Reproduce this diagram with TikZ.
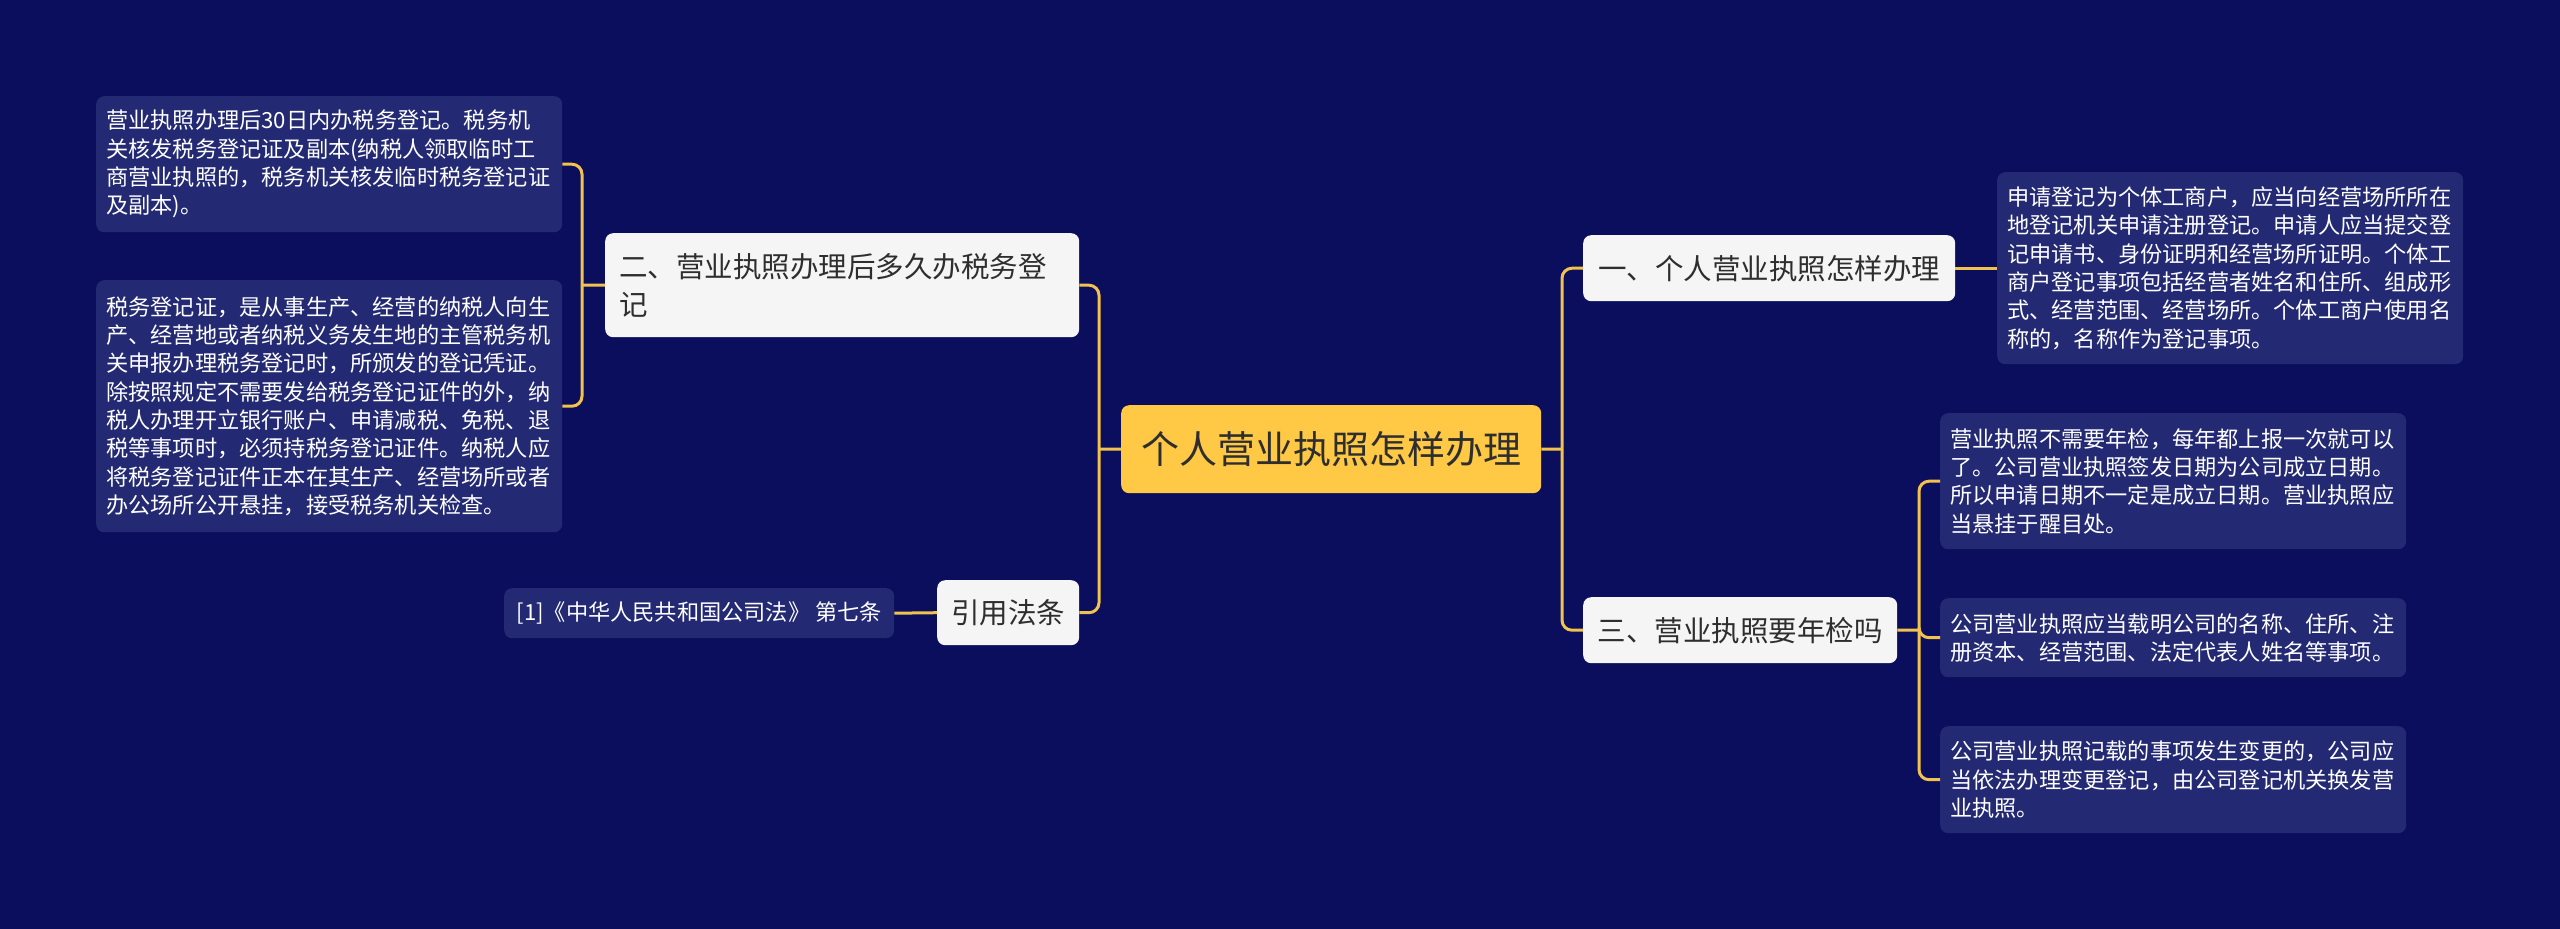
\documentclass[tikz,border=0pt]{standalone}
\usepackage{fontspec}
\setmainfont{Noto Sans CJK SC}
\definecolor{bgc}{HTML}{0A0E5C}
\definecolor{leafc}{HTML}{232A73}
\definecolor{branchc}{HTML}{F5F5F5}
\definecolor{rootc}{HTML}{FFC845}
\definecolor{linec}{HTML}{F2C24E}
\definecolor{darktext}{HTML}{2E2E2E}
\newcommand{\leaffont}{\fontsize{22.2}{28.3}\selectfont}
\newcommand{\branchfont}{\fontsize{28.5}{38}\selectfont}
\newcommand{\rootfont}{\fontsize{38}{44}\selectfont}
\begin{document}
\begin{tikzpicture}[x=1pt,y=-1pt,
  leaf/.style={fill=leafc, rounded corners=8pt, text=white, font=\leaffont, align=left,
    anchor=north west, inner xsep=10pt, inner ysep=0pt, text width=446pt},
  branch/.style={fill=branchc, rounded corners=8pt, text=darktext, font=\branchfont,
    anchor=north west, inner sep=0pt, align=center},
  rootbox/.style={fill=rootc, rounded corners=8pt, text=darktext, font=\rootfont,
    anchor=north west, inner sep=0pt, align=center},
  conn/.style={draw=linec, line width=3pt, rounded corners=10pt}]
\fill[bgc] (0,0) rectangle (2560,929);
\useasboundingbox (0,0) rectangle (2560,929);

% root
\node[rootbox, minimum width=420pt, minimum height=88pt] (root) at (1121,405) {个人营业执照怎样办理};

% right branches
\node[branch, minimum width=372pt, minimum height=66pt] (b1) at (1583,235) {一、个人营业执照怎样办理};
\node[branch, minimum width=314pt, minimum height=66pt] (b3) at (1583,597) {三、营业执照要年检吗};

% left branches
\node[branch, minimum width=474pt, minimum height=104pt, align=left, text width=446pt, inner xsep=14pt] (b2) at (605,233) {二、营业执照办理后多久办税务登\\记};
\node[branch, minimum width=142pt, minimum height=65pt] (b4) at (937,580) {引用法条};

% leaves
\node[leaf, minimum height=192pt] (l1) at (1997,172) {申请登记为个体工商户，应当向经营场所所在\\地登记机关申请注册登记。申请人应当提交登\\记申请书、身份证明和经营场所证明。个体工\\商户登记事项包括经营者姓名和住所、组成形\\式、经营范围、经营场所。个体工商户使用名\\称的，名称作为登记事项。};

\node[leaf, minimum height=136pt] (l3a) at (1940,413) {营业执照不需要年检，每年都上报一次就可以\\了。公司营业执照签发日期为公司成立日期。\\所以申请日期不一定是成立日期。营业执照应\\当悬挂于醒目处。};
\node[leaf, minimum height=79pt] (l3b) at (1940,598) {公司营业执照应当载明公司的名称、住所、注\\册资本、经营范围、法定代表人姓名等事项。};
\node[leaf, minimum height=107pt] (l3c) at (1940,726) {公司营业执照记载的事项发生变更的，公司应\\当依法办理变更登记，由公司登记机关换发营\\业执照。};

\node[leaf, minimum height=136pt] (l2a) at (96,96) {营业执照办理后30日内办税务登记。税务机\\关核发税务登记证及副本(纳税人领取临时工\\商营业执照的，税务机关核发临时税务登记证\\及副本)。};
\node[leaf, minimum height=252pt] (l2b) at (96,280) {税务登记证，是从事生产、经营的纳税人向生\\产、经营地或者纳税义务发生地的主管税务机\\关申报办理税务登记时，所颁发的登记凭证。\\除按照规定不需要发给税务登记证件的外，纳\\税人办理开立银行账户、申请减税、免税、退\\税等事项时，必须持税务登记证件。纳税人应\\将税务登记证件正本在其生产、经营场所或者\\办公场所公开悬挂，接受税务机关检查。};

\node[leaf, text width=, align=center, minimum width=390pt, minimum height=50pt] (l4) at (504,588) {[1]《中华人民共和国公司法》 第七条};

% junctions
\coordinate (jr) at (1562,449);
\coordinate (jl) at (1099,449);
\coordinate (j3) at (1919,630);
\coordinate (j2) at (582,285);

% connectors
\draw[conn] (root.east) -- (jr);
\draw[conn] (jr) |- (b1.west);
\draw[conn] (jr) |- (b3.west);
\draw[conn] (root.west) -- (jl);
\draw[conn] (jl) |- (b2.east);
\draw[conn] (jl) |- (b4.east);
\draw[conn] (b1.east) -- (l1.west);
\draw[conn] (b3.east) -- (j3);
\draw[conn] (j3) |- (l3a.west);
\draw[conn] (j3) |- (l3b.west);
\draw[conn] (j3) |- (l3c.west);
\draw[conn] (b2.west) -- (j2);
\draw[conn] (j2) |- (l2a.east);
\draw[conn] (j2) |- (l2b.east);
\draw[conn] (l4.east) -- (b4.west);
\end{tikzpicture}
\end{document}
